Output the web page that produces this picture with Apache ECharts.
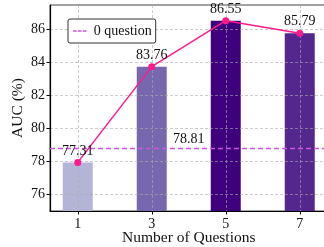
<!DOCTYPE html>
<html>
<head>
<meta charset="utf-8">
<script src="https://cdn.jsdelivr.net/npm/echarts@6/dist/echarts.min.js"></script>
<style>
  html, body { margin: 0; padding: 0; background: #fff; }
  #chart { width: 324px; height: 247px; }
</style>
</head>
<body>
<div id="chart"></div>
<script>
// data
var questions = [1, 3, 5, 7];
var auc = [77.95, 83.76, 86.55, 85.79];          // bar / point heights
var aucLabels = ['77.31', '83.76', '86.55', '85.79']; // printed labels
var baseline = 78.81;                             // 0 question
var xTicks = [1, 3, 5, 7];
var yTicks = [76, 78, 80, 82, 84, 86];

var barColors = ['#b4b4d7', '#7767ae', '#3f007d', '#54278f'];
var baseColor = '#cc55e0';
var serif = 'Liberation Serif';

var chart = echarts.init(document.getElementById('chart'));

chart.setOption({
  animation: false,
  backgroundColor: '#fff',
  textStyle: { fontFamily: serif },
  grid: {
    left: 50, right: -3.5, top: 5, bottom: 36,
    outerBoundsMode: 'none',
    containLabel: false,
    show: true, borderColor: '#444', borderWidth: 1
  },
  legend: {
    data: [{
      name: '0 question',
      icon: 'path://M0,0h5v2h-5z M6.5,0h5v2h-5z M13,0h5v2h-5z',
      itemStyle: { color: baseColor }
    }],
    left: 68, top: 19,
    padding: [4, 4, 4, 5],
    itemWidth: 18,
    itemHeight: 1.5,
    borderColor: '#333', borderWidth: 1, borderRadius: 2,
    backgroundColor: '#fff',
    textStyle: { fontFamily: serif, fontSize: 14, color: '#111', lineHeight: 16 }
  },
  xAxis: {
    type: 'value',
    min: 0.25, max: 7.75,
    z: 3,
    name: 'Number of Questions',
    nameLocation: 'middle',
    nameGap: 19,
    nameMoveOverlap: false,
    nameTextStyle: { fontFamily: serif, fontSize: 15.5, color: '#111' },
    axisLine: { lineStyle: { color: '#000', width: 1.2 } },
    axisTick: { customValues: xTicks, length: 3.5, lineStyle: { color: '#000' } },
    axisLabel: { customValues: xTicks, margin: 6, fontFamily: serif, fontSize: 14, color: '#111' },
    splitLine: { show: true, lineStyle: { color: 'rgba(170,170,170,0.6)', type: [3, 2], width: 1 } }
  },
  yAxis: {
    type: 'value',
    min: 75, max: 87.5,
    z: 3,
    name: 'AUC (%)',
    nameLocation: 'middle',
    nameGap: 24,
    nameMoveOverlap: false,
    nameTextStyle: { fontFamily: serif, fontSize: 15.5, color: '#111' },
    axisLine: { show: true, lineStyle: { color: '#000', width: 1.2 } },
    axisTick: { show: true, customValues: yTicks, length: 3.5, lineStyle: { color: '#000' } },
    axisLabel: { customValues: yTicks, margin: 5, fontFamily: serif, fontSize: 14, color: '#111' },
    splitLine: { show: true, lineStyle: { color: 'rgba(170,170,170,0.6)', type: [3, 2], width: 1 } }
  },
  series: [
    {
      type: 'bar',
      barWidth: 30,
      z: 2,
      data: questions.map(function (q, i) {
        return { value: [q, auc[i]], itemStyle: { color: barColors[i] } };
      })
    },
    {
      name: '0 question',
      type: 'line',
      data: [],
      symbol: 'none',
      z: 4,
      color: baseColor,
      lineStyle: { color: baseColor, type: [5, 3], width: 1.3 },
      markLine: {
        silent: true,
        symbol: ['none', 'none'],
        lineStyle: { color: baseColor, type: [5, 3], width: 1.3 },
        label: {
          position: 'middle', distance: 2,
          formatter: baseline.toFixed(2),
          fontFamily: serif, fontSize: 14, color: '#111'
        },
        data: [{ yAxis: baseline }]
      }
    },
    {
      name: 'AUC',
      type: 'line',
      z: 5,
      symbol: 'circle',
      symbolSize: 7,
      color: '#ff1a8c',
      lineStyle: { color: '#ff1a8c', width: 1.5 },
      label: {
        show: true, position: 'top', distance: 1,
        formatter: function (p) { return aucLabels[p.dataIndex]; },
        fontFamily: serif, fontSize: 14, color: '#111'
      },
      data: questions.map(function (q, i) { return [q, auc[i]]; })
    }
  ]
});
</script>
</body>
</html>
